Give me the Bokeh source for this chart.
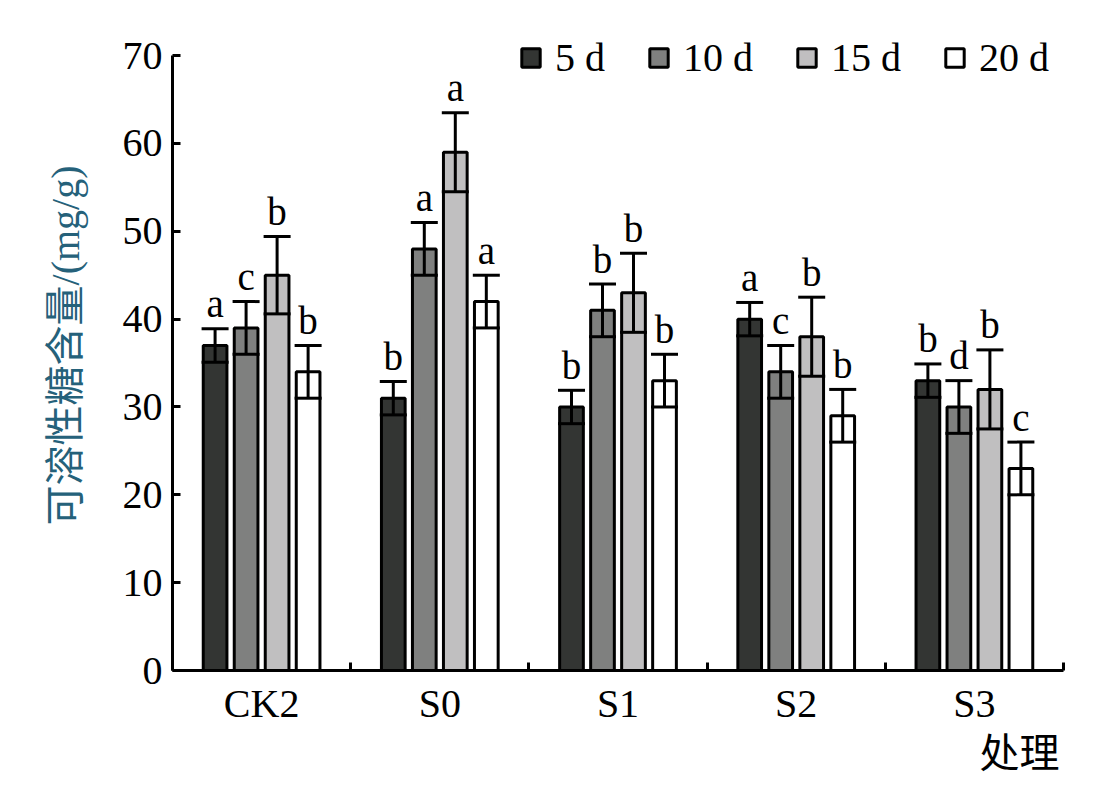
import numpy as np
import pandas as pd
from bokeh.plotting import figure
from bokeh.models import ColumnDataSource, Whisker, TeeHead, FixedTicker, Title, Legend
from bokeh.core.properties import value
from bokeh.embed import file_html
from bokeh.resources import INLINE

groups = ["CK2", "S0", "S1", "S2", "S3"]
series = ["5 d", "10 d", "15 d", "20 d"]
mean_5d = [37, 31, 30, 40, 33]
mean_10d = [39, 48, 41, 34, 30]
mean_15d = [45, 59, 43, 38, 32]
mean_20d = [34, 42, 33, 29, 23]
err_5d = [1.9, 1.9, 1.9, 1.9, 1.9]
err_10d = [3.0, 3.0, 3.0, 3.0, 3.0]
err_15d = [4.4, 4.5, 4.5, 4.5, 4.5]
err_20d = [3.0, 3.0, 3.0, 3.0, 3.0]
let_5d = ["a", "b", "b", "a", "b"]
let_10d = ["c", "a", "b", "c", "d"]
let_15d = ["b", "a", "b", "b", "b"]
let_20d = ["b", "a", "b", "b", "c"]
y_ticks = [0, 10, 20, 30, 40, 50, 60, 70]

means = [mean_5d, mean_10d, mean_15d, mean_20d]
errs = [err_5d, err_10d, err_15d, err_20d]
lets = [let_5d, let_10d, let_15d, let_20d]
colors = ["#333533", "#7f807f", "#c0bfc0", "#ffffff"]
offsets = [-0.261, -0.087, 0.087, 0.261]
bar_w = 0.133

FONT = "Liberation Serif, 'Times New Roman', 'Noto Sans CJK SC'"

p = figure(width=1086, height=784, x_range=(0, len(groups)), y_range=(0, 74),
           output_backend="svg", toolbar_location=None,
           min_border_left=172, min_border_right=23, min_border_top=20, min_border_bottom=114)
p.xgrid.visible = False
p.ygrid.visible = False
p.outline_line_color = None
p.background_fill_color = "white"
p.border_fill_color = "white"

legend_items = []
for j, s in enumerate(series):
    df = pd.DataFrame({
        "x": np.arange(len(groups)) + 0.5 + offsets[j],
        "top": means[j],
        "upper": np.array(means[j]) + np.array(errs[j]),
        "lower": np.array(means[j]) - np.array(errs[j]),
        "letter": lets[j],
    })
    src = ColumnDataSource(df)
    r = p.vbar(x="x", top="top", width=bar_w, bottom=0, source=src,
               fill_color=colors[j], line_color="black", line_width=3)
    legend_items.append((s, [r]))
    w = Whisker(base="x", upper="upper", lower="lower", source=src, dimension="height",
                line_color="black", line_width=3, level="overlay",
                upper_head=TeeHead(size=27, line_width=3, line_color="black"),
                lower_head=TeeHead(size=27, line_width=3, line_color="black"))
    p.add_layout(w)
    p.text(x="x", y="upper", text="letter", source=src, text_align="center",
           text_baseline="alphabetic", y_offset=-25, text_color="black",
           text_font=value("Liberation Serif"), text_font_size="39px", level="overlay")

legend = Legend(items=legend_items, orientation="horizontal", location="top_right",
                glyph_width=23, glyph_height=23, label_standoff=13, spacing=42,
                padding=0, margin=14, border_line_color=None, background_fill_alpha=0,
                label_text_font=FONT, label_text_font_size="40px", label_text_color="black")
p.add_layout(legend, "center")

xa = p.xaxis[0]
xa.ticker = FixedTicker(ticks=list(np.arange(len(groups)) + 0.5),
                        minor_ticks=list(range(0, len(groups) + 1)))
xa.major_label_overrides = {float(i + 0.5): g for i, g in enumerate(groups)}
xa.major_tick_line_color = None
xa.minor_tick_in = 8
xa.minor_tick_out = 0
xa.minor_tick_line_width = 3
xa.minor_tick_line_color = "black"
xa.axis_line_width = 3
xa.axis_line_color = "black"
xa.major_label_text_font = FONT
xa.major_label_text_font_size = "40px"
xa.major_label_text_color = "black"
xa.major_label_standoff = 4

ya = p.yaxis[0]
ya.ticker = FixedTicker(ticks=y_ticks, minor_ticks=[])
ya.bounds = (0, 70)
ya.major_tick_in = 8
ya.major_tick_out = 0
ya.major_tick_line_width = 3
ya.major_tick_line_color = "black"
ya.minor_tick_line_color = None
ya.axis_line_width = 3
ya.axis_line_color = "black"
ya.major_label_text_font = FONT
ya.major_label_text_font_size = "40px"
ya.major_label_text_color = "black"
ya.major_label_standoff = 10
ya.axis_label = "可溶性糖含量/(mg/g)"
ya.axis_label_text_font = FONT
ya.axis_label_text_font_size = "40px"
ya.axis_label_text_font_style = "normal"
ya.axis_label_text_color = "#25617a"
ya.axis_label_standoff = 32

t = Title(text="处理", align="right", offset=4, standoff=0,
          text_font=FONT, text_font_size="40px", text_font_style="normal", text_color="black")
p.add_layout(t, "below")

open("out.html", "w").write(file_html(p, INLINE))
